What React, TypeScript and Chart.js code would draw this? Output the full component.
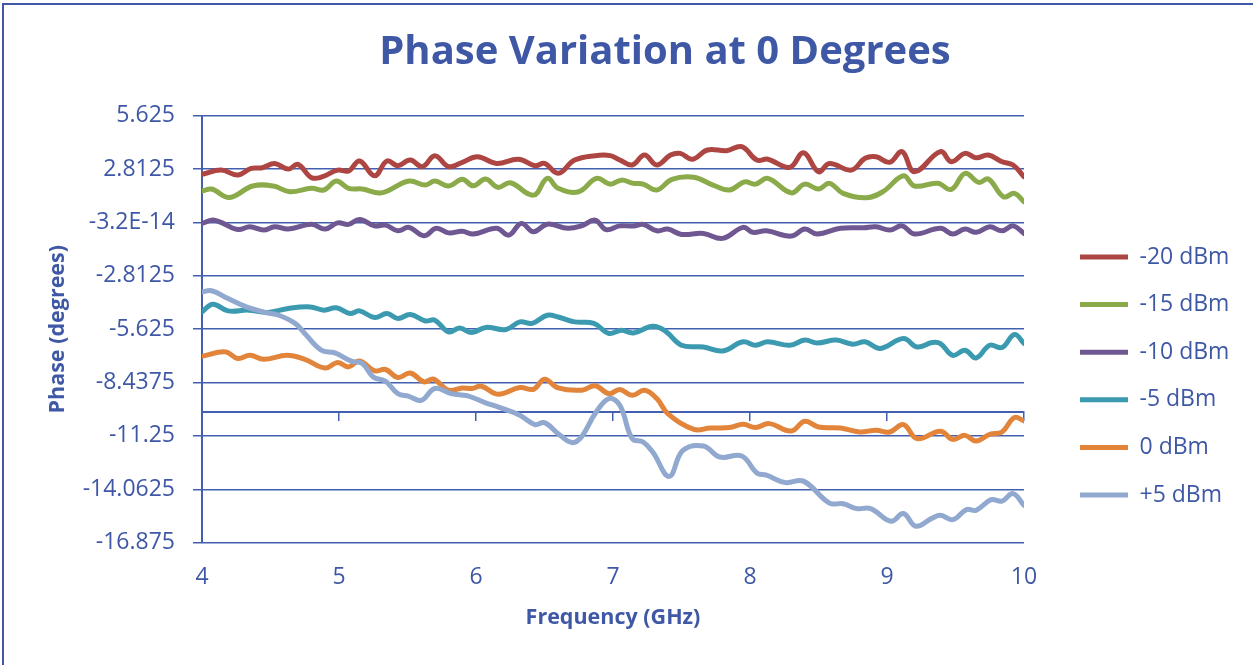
import React, { useEffect, useRef } from "react";
import { Chart, registerables } from "chart.js";

Chart.register(...registerables);

// ---------- data ----------
const seriesLabels = ["-20 dBm", "-15 dBm", "-10 dBm", "-5 dBm", "0 dBm", "+5 dBm"];
const seriesColors = ["#AD4642", "#8BAA4A", "#6F5792", "#3C9AB0", "#E2843A", "#91A8CF"];

const yTickLabels = ["5.625", "2.8125", "-3.2E-14", "-2.8125", "-5.625", "-8.4375", "-11.25", "-14.0625", "-16.875"];
const xTickLabels = ["4", "5", "6", "7", "8", "9", "10"];

const redFreq = [4.00,4.14,4.26,4.36,4.44,4.53,4.63,4.70,4.80,4.88,4.99,5.07,5.15,5.26,5.35,5.43,5.52,5.61,5.70,5.80,5.90,6.01,6.15,6.31,6.43,6.50,6.60,6.72,6.87,6.98,7.05,7.14,7.23,7.32,7.42,7.49,7.58,7.69,7.83,7.94,8.05,8.13,8.29,8.39,8.50,8.58,8.74,8.84,8.92,9.02,9.11,9.20,9.39,9.47,9.57,9.65,9.74,9.84,9.92,10.00];
const redPhase = [2.53,2.76,2.50,2.85,2.88,3.11,2.81,3.06,2.36,2.41,2.76,2.71,3.24,2.46,3.24,2.99,3.29,2.94,3.52,2.94,3.17,3.46,3.11,3.33,2.99,3.11,2.59,3.29,3.52,3.52,3.29,3.03,3.55,3.03,3.55,3.64,3.33,3.82,3.78,3.99,3.29,3.33,2.90,3.67,2.67,3.11,2.76,3.38,3.46,3.17,3.73,2.67,3.73,3.20,3.64,3.41,3.55,3.20,3.03,2.41];

const greenFreq = [4.00,4.07,4.20,4.37,4.52,4.64,4.80,4.89,4.98,5.07,5.17,5.31,5.51,5.63,5.70,5.80,5.90,5.98,6.07,6.16,6.25,6.42,6.52,6.60,6.75,6.88,6.98,7.06,7.15,7.22,7.32,7.43,7.59,7.73,7.85,7.96,8.04,8.13,8.30,8.40,8.50,8.58,8.68,8.85,8.97,9.12,9.20,9.37,9.47,9.57,9.67,9.74,9.85,9.93,10.00];
const greenPhase = [1.65,1.76,1.32,1.92,1.92,1.62,1.80,1.71,2.18,1.80,1.76,1.56,2.18,1.97,2.18,1.92,2.27,1.93,2.29,1.85,2.09,1.44,2.32,1.80,1.62,2.32,2.02,2.23,2.06,2.02,1.71,2.27,2.38,1.97,1.71,2.14,2.02,2.32,1.56,2.02,1.76,2.06,1.53,1.30,1.62,2.46,1.92,2.06,1.74,2.59,2.11,2.29,1.35,1.53,1.09];

const purpleFreq = [4.00,4.09,4.26,4.35,4.45,4.53,4.63,4.80,4.90,4.99,5.07,5.15,5.26,5.34,5.43,5.51,5.62,5.71,5.80,5.90,5.98,6.15,6.24,6.33,6.42,6.52,6.67,6.77,6.87,6.95,7.05,7.15,7.22,7.32,7.40,7.50,7.66,7.80,7.95,8.02,8.12,8.30,8.40,8.49,8.66,8.83,8.92,9.02,9.11,9.20,9.39,9.48,9.57,9.65,9.75,9.84,9.92,10.00];
const purplePhase = [-0.05,0.12,-0.37,-0.23,-0.40,-0.23,-0.35,-0.10,-0.35,-0.02,-0.10,0.16,-0.18,-0.14,-0.44,-0.26,-0.70,-0.31,-0.55,-0.46,-0.61,-0.31,-0.67,-0.05,-0.49,-0.09,-0.31,-0.18,0.12,-0.38,-0.18,-0.19,-0.10,-0.44,-0.35,-0.63,-0.58,-0.84,-0.26,-0.52,-0.44,-0.72,-0.35,-0.61,-0.31,-0.28,-0.23,-0.40,-0.18,-0.61,-0.31,-0.61,-0.35,-0.52,-0.23,-0.44,-0.18,-0.58];

const tealFreq = [4.00,4.08,4.19,4.34,4.48,4.63,4.79,4.89,4.98,5.08,5.15,5.26,5.35,5.43,5.52,5.63,5.70,5.80,5.88,5.97,6.07,6.22,6.32,6.41,6.52,6.60,6.72,6.86,6.97,7.06,7.15,7.29,7.38,7.50,7.66,7.80,7.95,8.04,8.13,8.29,8.40,8.49,8.63,8.75,8.84,8.95,9.12,9.22,9.33,9.39,9.48,9.57,9.65,9.75,9.84,9.93,10.00];
const tealPhase = [-4.71,-4.31,-4.66,-4.62,-4.74,-4.53,-4.45,-4.62,-4.50,-4.80,-4.66,-5.01,-4.80,-5.06,-4.85,-5.19,-5.15,-5.77,-5.56,-5.80,-5.53,-5.64,-5.24,-5.32,-4.89,-4.98,-5.24,-5.32,-5.85,-5.68,-5.82,-5.47,-5.71,-6.47,-6.56,-6.77,-6.29,-6.47,-6.29,-6.47,-6.20,-6.35,-6.20,-6.42,-6.29,-6.64,-6.12,-6.56,-6.33,-6.38,-7.00,-6.73,-7.14,-6.47,-6.59,-5.90,-6.38];

const orangeFreq = [4.00,4.17,4.26,4.35,4.45,4.62,4.75,4.90,4.99,5.07,5.15,5.26,5.34,5.43,5.52,5.62,5.69,5.80,5.90,5.97,6.04,6.16,6.32,6.42,6.50,6.60,6.77,6.87,6.97,7.05,7.14,7.23,7.32,7.40,7.59,7.71,7.85,7.95,8.04,8.14,8.30,8.40,8.50,8.66,8.80,8.92,9.02,9.12,9.22,9.39,9.48,9.57,9.65,9.75,9.84,9.93,10.00];
const orangePhase = [-7.05,-6.82,-7.17,-7.00,-7.21,-7.00,-7.21,-7.67,-7.38,-7.61,-7.30,-7.82,-7.75,-8.17,-7.93,-8.40,-8.26,-8.84,-8.72,-8.75,-8.63,-9.05,-8.70,-8.79,-8.26,-8.72,-8.84,-8.61,-9.02,-8.80,-9.11,-8.84,-9.28,-10.07,-10.90,-10.83,-10.81,-10.64,-10.81,-10.60,-10.99,-10.48,-10.78,-10.83,-11.04,-10.95,-11.04,-10.65,-11.39,-11.00,-11.43,-11.22,-11.52,-11.16,-11.04,-10.28,-10.46];

const plusFreq = [4.00,4.07,4.19,4.31,4.46,4.56,4.68,4.75,4.87,4.97,5.09,5.17,5.25,5.34,5.43,5.51,5.60,5.70,5.82,5.94,6.07,6.16,6.32,6.43,6.50,6.60,6.70,6.77,6.87,6.97,7.05,7.14,7.22,7.29,7.41,7.51,7.66,7.78,7.94,8.05,8.12,8.26,8.39,8.58,8.68,8.78,8.88,9.03,9.12,9.21,9.33,9.39,9.48,9.58,9.65,9.76,9.84,9.92,10.00];
const plusPhase = [-3.66,-3.60,-4.01,-4.41,-4.74,-4.89,-5.32,-5.85,-6.73,-6.87,-7.31,-7.43,-8.14,-8.37,-9.02,-9.16,-9.37,-8.75,-9.02,-9.14,-9.51,-9.72,-10.16,-10.65,-10.55,-11.13,-11.60,-11.30,-10.07,-9.28,-9.63,-11.39,-11.57,-12.10,-13.38,-12.01,-11.78,-12.36,-12.31,-13.20,-13.32,-13.71,-13.63,-14.79,-14.82,-15.08,-15.08,-15.74,-15.34,-16.01,-15.58,-15.43,-15.66,-15.13,-15.17,-14.61,-14.68,-14.29,-14.91];

const seriesFreqs = [redFreq, greenFreq, purpleFreq, tealFreq, orangeFreq, plusFreq];
const seriesPhases = [redPhase, greenPhase, purplePhase, tealPhase, orangePhase, plusPhase];

const axisCrossValue = -10;

// ---------- styling ----------
const TEXT = "#3F58A6";
const GRID = "#4360B0";
const FONT = "'Open Sans'";
const CANVAS_W = 1330;
const CANVAS_H = 665;
const RIGHT_SIDE = 306; // space right of the plot area (gap + legend + outer margin)
const RIGHT_GAP = 31.4;

const yMax = parseFloat(yTickLabels[0]);
const yMin = parseFloat(yTickLabels[yTickLabels.length - 1]);
const yStep = parseFloat(yTickLabels[0]) - parseFloat(yTickLabels[1]);

export default function App() {
  const canvasRef = useRef<HTMLCanvasElement>(null);

  useEffect(() => {
    const canvas = canvasRef.current;
    if (!canvas) return;

    const datasets = seriesLabels.map((label, i) => ({
      label,
      data: seriesFreqs[i].map((f, j) => ({ x: f, y: seriesPhases[i][j] })),
      borderColor: seriesColors[i],
      backgroundColor: seriesColors[i],
      borderWidth: 5,
      pointRadius: 0,
      pointHoverRadius: 0,
      tension: 0.4,
      borderCapStyle: "round" as const,
      borderJoinStyle: "round" as const,
      order: seriesLabels.length - 1 - i,
      xAxisID: "x",
      yAxisID: "y",
    }));

    const chart = new Chart(canvas, {
      type: "line",
      data: { datasets },
      options: {
        responsive: false,
        maintainAspectRatio: false,
        devicePixelRatio: 1,
        animation: false,
        layout: { padding: 0 },
        plugins: {
          tooltip: { enabled: false },
          title: {
            display: true,
            text: "Phase Variation at 0 Degrees",
            color: TEXT,
            font: { family: FONT, size: 40, weight: "bold" },
            padding: { top: 29, bottom: 38.7 },
          },
          legend: {
            position: "right",
            fullSize: false,
            align: "start",
            maxWidth: 300,
            title: {
              display: true,
              text: " ",
              font: { size: 10 },
              padding: { top: 93.2, bottom: 0 },
            },
            labels: {
              usePointStyle: true,
              pointStyle: "line",
              pointStyleWidth: 48,
              padding: 24.6,
              color: TEXT,
              font: { family: FONT, size: 23 },
              sort: (a: any, b: any) => a.datasetIndex - b.datasetIndex,
            },
          },
        },
        scales: {
          x: {
            type: "linear",
            position: "bottom",
            min: 4,
            max: 10,
            ticks: {
              stepSize: 1,
              color: TEXT,
              font: { family: FONT, size: 23 },
              padding: 20.5,
              callback: (v: any) => xTickLabels.find((t) => Number(t) === Number(v)) ?? "",
            },
            grid: { display: false, drawTicks: false },
            border: { display: false },
            title: {
              display: true,
              text: "Frequency (GHz)",
              color: TEXT,
              font: { family: FONT, size: 21.5, weight: "bold" },
              padding: { top: -6.2, bottom: 34.1 },
            },
          },
          x2: {
            type: "linear",
            position: { y: axisCrossValue } as any,
            min: 4,
            max: 10,
            ticks: { stepSize: 1, display: false },
            grid: { drawOnChartArea: false, drawTicks: true, tickLength: 8, color: GRID, lineWidth: 1.5 },
            border: { display: true, color: GRID, width: 2 },
          },
          y: {
            type: "linear",
            position: "left",
            min: yMin,
            max: yMax,
            ticks: {
              stepSize: yStep,
              color: TEXT,
              font: { family: FONT, size: 23 },
              padding: 18,
              callback: (v: any) =>
                yTickLabels.find((t) => Math.abs(parseFloat(t) - Number(v)) < 1e-6) ?? "",
            },
            grid: { color: GRID, lineWidth: 1.5, tickLength: 9 },
            border: { display: true, color: GRID, width: 2 },
            title: {
              display: true,
              text: "Phase (degrees)",
              color: TEXT,
              font: { family: FONT, size: 21.5, weight: "bold" },
              padding: { top: 45.1, bottom: 0 },
            },
            afterFit: (s: any) => {
              s.width = 202;
            },
          },
          gapR: {
            type: "linear",
            position: "right",
            display: true,
            ticks: { display: false },
            grid: { display: false, drawTicks: false },
            border: { display: false },
            afterFit: (s: any) => {
              s.width = RIGHT_GAP;
            },
          },
          padR: {
            type: "linear",
            position: "right",
            weight: 2000,
            display: true,
            ticks: { display: false },
            grid: { display: false, drawTicks: false },
            border: { display: false },
            afterFit: (s: any) => {
              const lw = s.chart.legend ? s.chart.legend.width : 180;
              s.width = Math.max(0, RIGHT_SIDE - RIGHT_GAP - lw);
            },
          },
        },
      } as any,
    });

    return () => chart.destroy();
  }, []);

  return (
    <div
      style={{
        position: "absolute",
        left: 0,
        top: 0,
        width: 1253,
        height: 665,
        overflow: "hidden",
        background: "#ffffff",
      }}
    >
      <canvas
        ref={canvasRef}
        width={CANVAS_W}
        height={CANVAS_H}
        style={{ position: "absolute", left: 0, top: 0, width: CANVAS_W, height: CANVAS_H }}
      />
      <div
        style={{
          position: "absolute",
          left: 2,
          top: 3,
          width: 1400,
          height: 800,
          borderLeft: `2px solid ${TEXT}`,
          borderTop: `2px solid ${TEXT}`,
          pointerEvents: "none",
        }}
      />
    </div>
  );
}
